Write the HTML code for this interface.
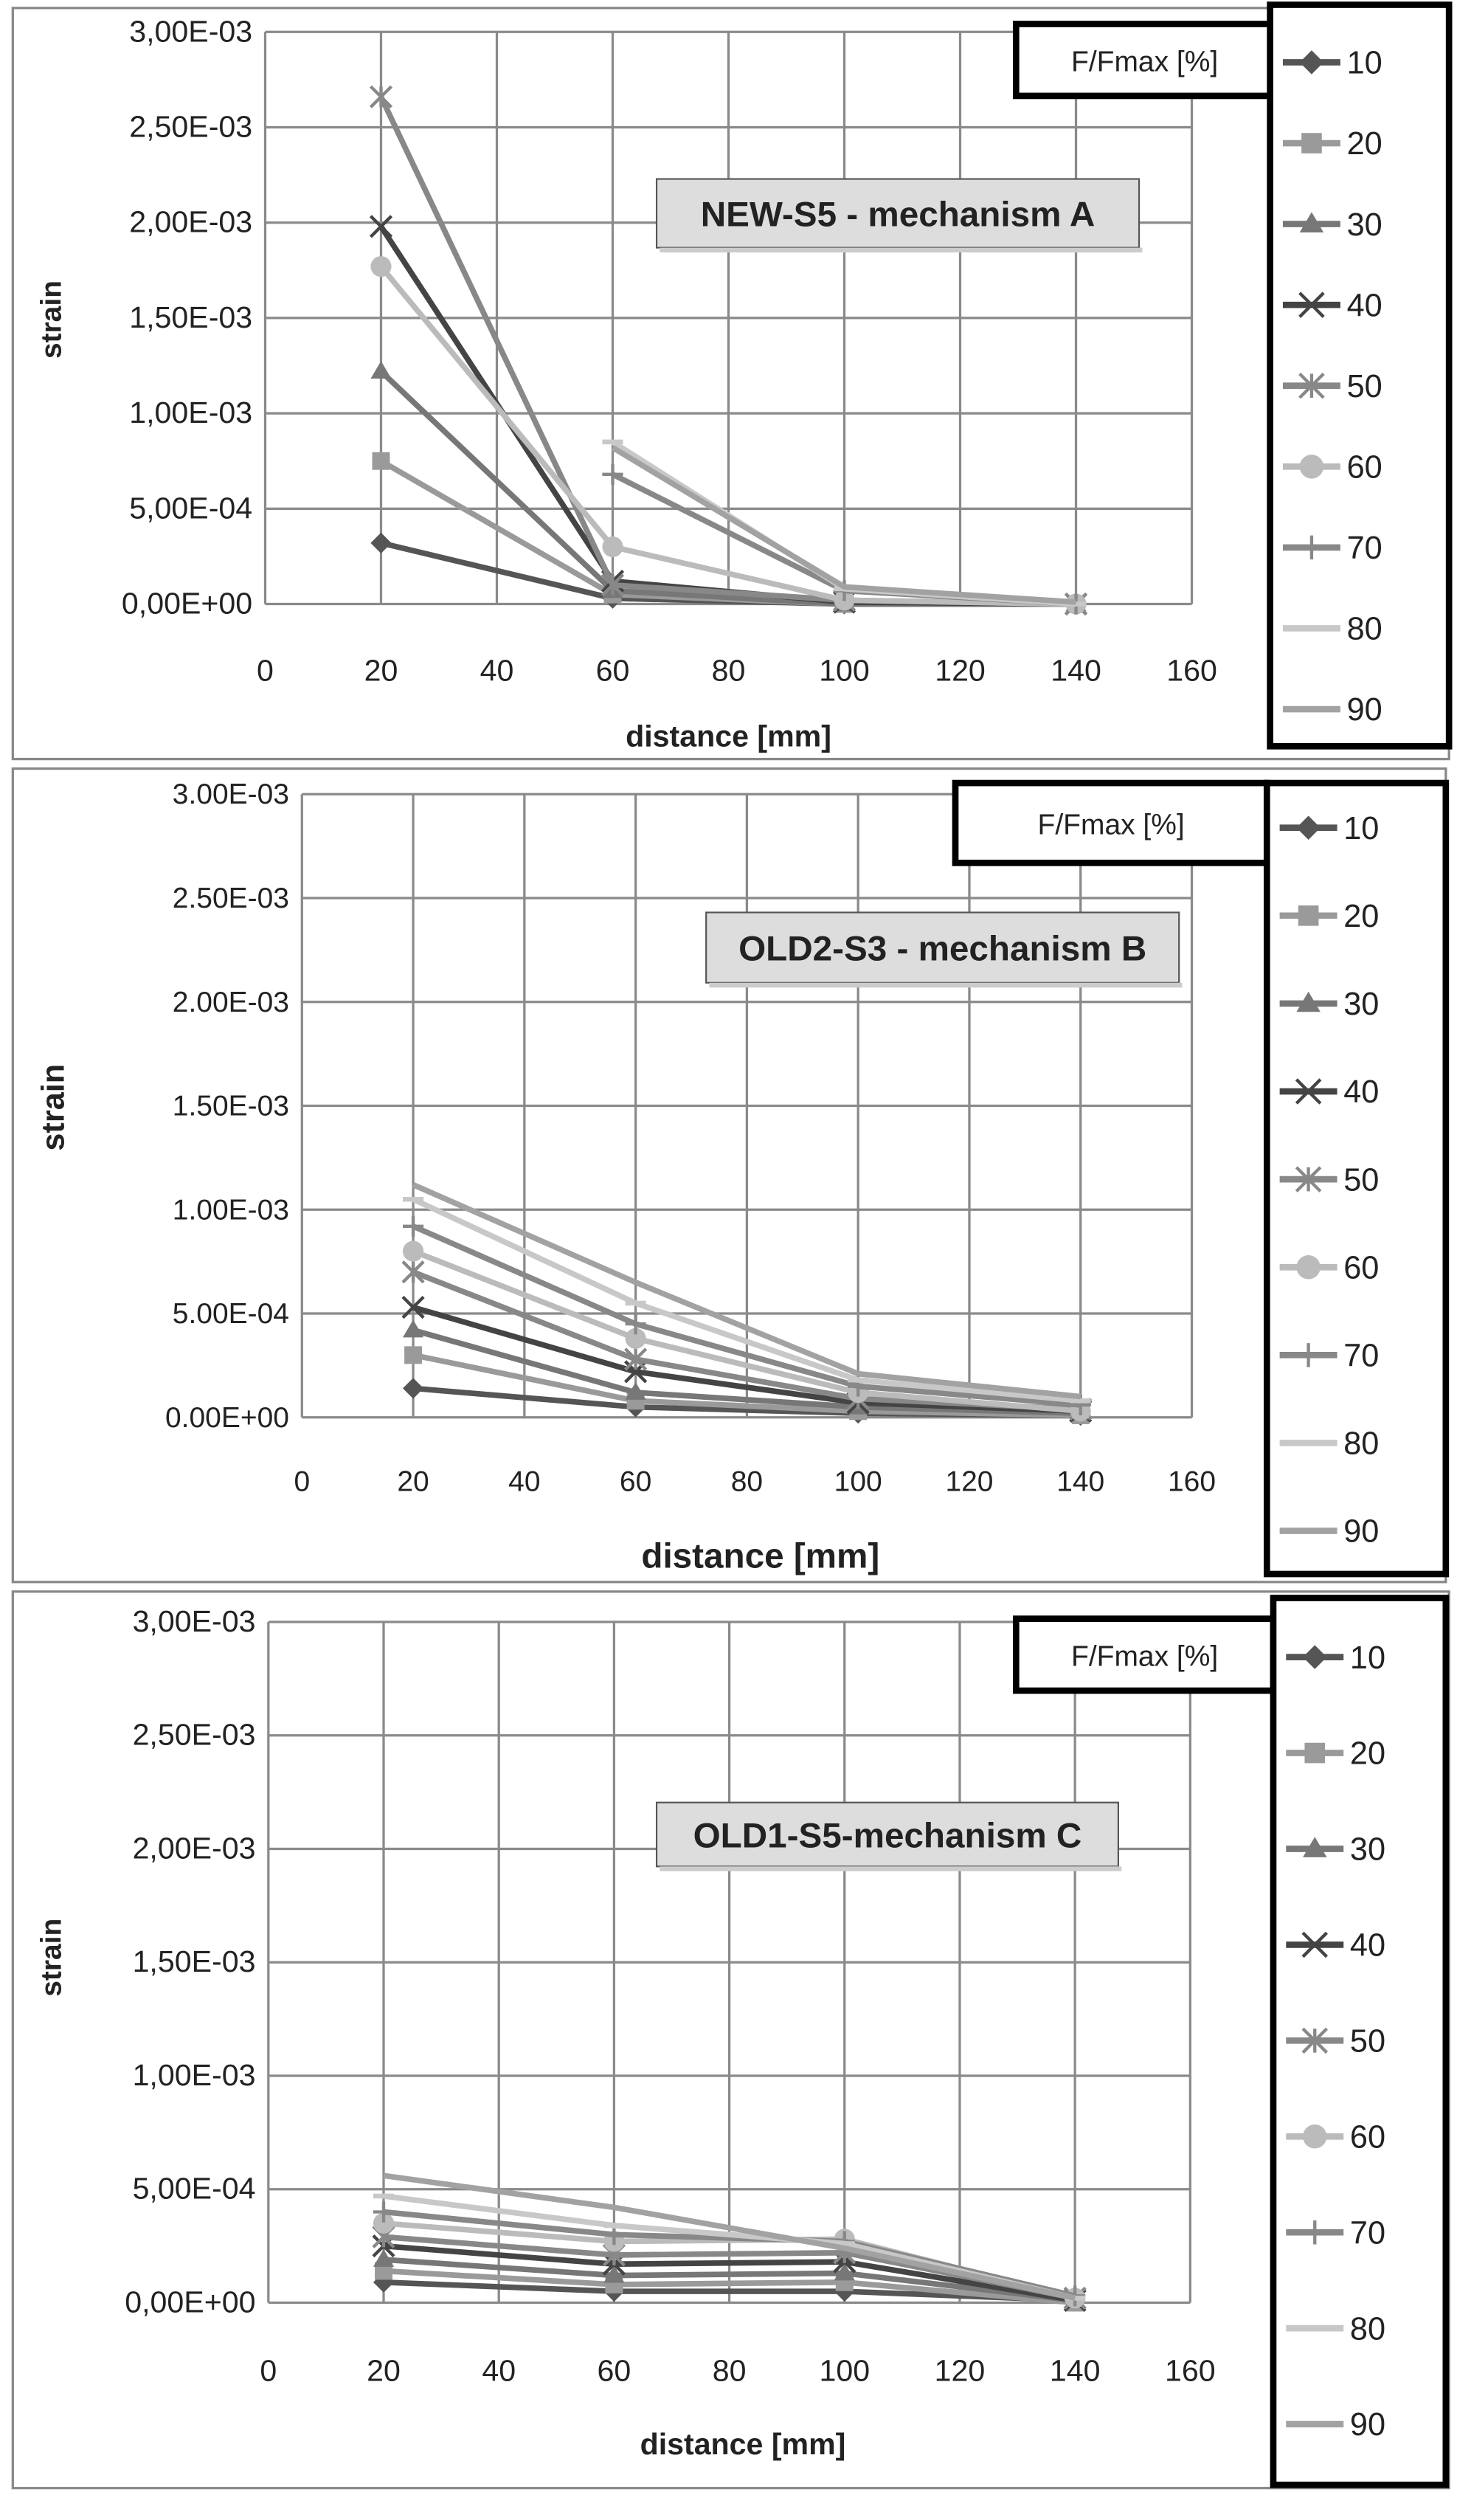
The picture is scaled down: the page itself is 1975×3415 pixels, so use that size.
<!DOCTYPE html>
<html><head><meta charset="utf-8">
<style>
html,body{margin:0;padding:0;background:#fff;}
svg{display:block;}
text{font-family:"Liberation Sans Narrow","Liberation Sans",sans-serif;fill:#222;}
</style></head>
<body>
<svg id="s" xmlns="http://www.w3.org/2000/svg" width="1975" height="3415" viewBox="0 0 912 1577" preserveAspectRatio="none"></svg>
<script>
const S=document.getElementById('s');let h='';
const cols=['#555','#9a9a9a','#777','#444','#888','#bbb','#888','#c8c8c8','#a2a2a2'];
const mk=['d','s','t','x','*','o','+','-',''];
function marker(t,x,y,c,r){r=r||7;
 if(t=='d')return `<polygon points="${x},${y-r} ${x+r},${y} ${x},${y+r} ${x-r},${y}" fill="${c}"/>`;
 if(t=='s')return `<rect x="${x-r*0.85}" y="${y-r*0.85}" width="${r*1.7}" height="${r*1.7}" fill="${c}"/>`;
 if(t=='t')return `<polygon points="${x},${y-r} ${x+r},${y+r*0.7} ${x-r},${y+r*0.7}" fill="${c}"/>`;
 if(t=='x')return `<path d="M${x-r},${y-r}L${x+r},${y+r}M${x-r},${y+r}L${x+r},${y-r}" stroke="${c}" stroke-width="2"/>`;
 if(t=='*')return `<path d="M${x-r},${y-r}L${x+r},${y+r}M${x-r},${y+r}L${x+r},${y-r}M${x},${y-r}L${x},${y+r}" stroke="${c}" stroke-width="2"/>`;
 if(t=='o')return `<circle cx="${x}" cy="${y}" r="${r}" fill="${c}"/>`;
 if(t=='+')return `<path d="M${x-r},${y}L${x+r},${y}M${x},${y-r}L${x},${y+r}" stroke="${c}" stroke-width="2"/>`;
 if(t=='-')return `<path d="M${x-r},${y}L${x+r},${y}" stroke="${c}" stroke-width="3"/>`;
 return '';}
function chart(o){
 h+=`<rect x="${o.bx}" y="${o.by}" width="${o.bw}" height="${o.bh}" fill="#fff" stroke="#888" stroke-width="1.5"/>`;
 const X=v=>o.x0+(o.x1-o.x0)*v/160, Y=v=>o.y0+(o.y3-o.y0)*v/3;
 for(let i=0;i<=8;i++){let x=X(i*20);h+=`<line x1="${x}" y1="${o.y3}" x2="${x}" y2="${o.y0}" stroke="#8a8a8a" stroke-width="1.5"/>`;
  h+=`<text x="${x}" y="${o.y0+o.xl}" font-size="${o.fs}" text-anchor="middle">${i*20}</text>`;}
 for(let j=0;j<=6;j++){let y=Y(j*0.5);h+=`<line x1="${o.x0}" y1="${y}" x2="${o.x1}" y2="${y}" stroke="#8a8a8a" stroke-width="1.5"/>`;
  h+=`<text x="${o.x0-8}" y="${y+6}" font-size="${o.fs}" text-anchor="end">${o.lab[j]}</text>`;}
 h+=`<text x="${o.xtx}" y="${o.xty}" font-size="${o.tfs}" font-weight="bold" text-anchor="middle">distance [mm]</text>`;
 h+=`<text transform="translate(${o.ytx},${o.yty}) rotate(-90)" font-size="${o.yfs}" font-weight="bold" text-anchor="middle">strain</text>`;
 const xs=[20,60,100,140];
 o.d.forEach((s,k)=>{let p=[];s.forEach((v,i)=>{if(v!==null)p.push([X(xs[i]),Y(v)]);});
  h+=`<polyline points="${p.map(a=>a.join(',')).join(' ')}" fill="none" stroke="${cols[k]}" stroke-width="3.5"/>`;
  p.forEach(a=>h+=marker(mk[k],a[0],a[1],cols[k],6.5));});
 h+=`<rect x="${o.tx}" y="${o.ty}" width="${o.tw}" height="${o.th}" fill="#ddd" stroke="#555" stroke-width="1"/>`;
 h+=`<rect x="${o.tx+2}" y="${o.ty+o.th}" width="${o.tw}" height="3" fill="#ccc"/>`;
 h+=`<text x="${o.tx+o.tw/2}" y="${o.ty+o.th/2+8}" font-size="22" font-weight="bold" text-anchor="middle">${o.title}</text>`;
 h+=`<rect x="${o.fx}" y="${o.fy}" width="${o.fw}" height="${o.fh}" fill="#fff" stroke="#000" stroke-width="4"/>`;
 h+=`<text x="${o.fx+o.fw/2}" y="${o.fy+o.fh/2+7}" font-size="${o.ffs}" text-anchor="middle">F/Fmax [%]</text>`;
 h+=`<rect x="${o.lx}" y="${o.ly}" width="${o.lw}" height="${o.lh}" fill="#fff" stroke="#000" stroke-width="4"/>`;
 for(let k=0;k<9;k++){let y=o.l0+k*o.ls,x=o.lx+26;
  h+=`<line x1="${x-18}" y1="${y}" x2="${x+18}" y2="${y}" stroke="${cols[k]}" stroke-width="4"/>`+marker(mk[k],x,y,cols[k],7.5);
  h+=`<text x="${x+22}" y="${y+7}" font-size="20">${(k+1)*10}</text>`;}
}
const A=['0,00E+00','5,00E-04','1,00E-03','1,50E-03','2,00E-03','2,50E-03','3,00E-03'];
const B=['0.00E+00','5.00E-04','1.00E-03','1.50E-03','2.00E-03','2.50E-03','3.00E-03'];
chart({bx:8,by:5,bw:899,bh:470,x0:166,x1:746,y0:378,y3:20,xl:48,fs:19,lab:A,xtx:456,xty:467,tfs:19,ytx:38,yty:200,yfs:18,
 tx:411,ty:112,tw:302,th:43,title:'NEW-S5 - mechanism A',fx:636,fy:15,fw:161,fh:45,ffs:18,lx:795,ly:3,lw:112,lh:464,l0:39,ls:50.6,
 d:[[0.32,0.03,0,0],[0.75,0.05,0,0],[1.22,0.07,0,0],[1.98,0.12,0.01,0],[2.66,0.10,0.02,0],[1.77,0.30,0.02,0],[null,0.68,0.07,0],[null,0.85,0.08,0],[null,0.82,0.09,0.01]]});
chart({bx:8,by:481,bw:897,bh:509,x0:189,x1:746,y0:887,y3:497,xl:46,fs:18,lab:B,xtx:476,xty:981,tfs:22,ytx:40,yty:693,yfs:20,
 tx:442,ty:571,tw:296,th:44,title:'OLD2-S3 - mechanism B',fx:598,fy:490,fw:195,fh:50,ffs:18,lx:793,ly:490,lw:112,lh:495,l0:518,ls:55,
 d:[[0.14,0.05,0.02,0.01],[0.30,0.08,0.03,0.01],[0.42,0.12,0.05,0.02],[0.53,0.22,0.07,0.03],[0.70,0.28,0.09,0.04],[0.80,0.38,0.12,0.03],[0.92,0.45,0.15,0.06],[1.05,0.55,0.18,0.08],[1.12,0.65,0.21,0.10]]});
chart({bx:8,by:996,bw:899,bh:561,x0:168,x1:745,y0:1441,y3:1015,xl:49,fs:19,lab:A,xtx:465,xty:1536,tfs:19,ytx:38,yty:1225,yfs:18,
 tx:411,ty:1128,tw:289,th:40,title:'OLD1-S5-mechanism C',fx:636,fy:1013,fw:161,fh:45,ffs:18,lx:797,ly:1000,lw:108,lh:555,l0:1037,ls:60,
 d:[[0.09,0.05,0.05,0.01],[0.14,0.08,0.09,0],[0.19,0.12,0.13,0.01],[0.25,0.17,0.18,0.01],[0.29,0.21,0.22,0.02],[0.35,0.27,0.28,0.02],[0.40,0.30,0.27,0.03],[0.47,0.34,0.26,0.02],[0.56,0.42,0.24,0.02]]});
S.innerHTML=h;
</script>
</body></html>
